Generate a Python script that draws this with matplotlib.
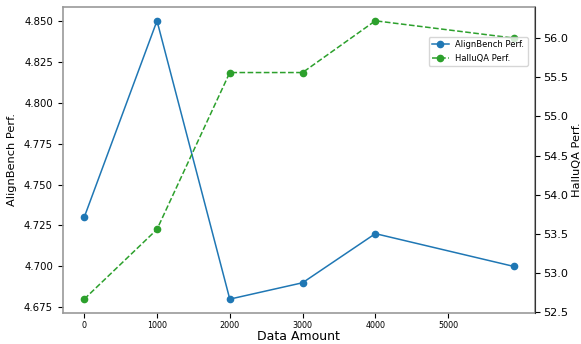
import matplotlib.pyplot as plt

# --- Data ---
data_amount = [0, 1000, 2000, 3000, 4000, 5900]
alignbench = [4.73, 4.85, 4.68, 4.69, 4.72, 4.70]
halluqa = [52.67, 53.56, 55.56, 55.56, 56.22, 56.0]
x_ticks = [0, 1000, 2000, 3000, 4000, 5000]

fig, ax1 = plt.subplots(figsize=(5.81, 3.44), dpi=100)
fig.subplots_adjust(left=0.108, right=0.921, bottom=0.090, top=0.980)

l1, = ax1.plot(data_amount, alignbench, "o-", color="#1f77b4", markersize=4.5,
               linewidth=1.1, label="AlignBench Perf.")
ax1.set_ylabel("AlignBench Perf.", fontsize=8.2, labelpad=5)
ax1.set_xlabel("Data Amount", fontsize=9, labelpad=0)
ax1.set_xticks(x_ticks)
ax1.tick_params(axis="x", labelsize=5.8, pad=2.5)
ax1.tick_params(axis="y", labelsize=7.3)
ax1.set_yticks([4.675, 4.700, 4.725, 4.750, 4.775, 4.800, 4.825, 4.850])
ax1.yaxis.set_major_formatter(plt.FormatStrFormatter("%.3f"))
for s in ax1.spines.values():
    s.set_color("#999999")
    s.set_linewidth(1.2)

ax2 = ax1.twinx()
l2, = ax2.plot(data_amount, halluqa, "o--", color="#2ca02c", markersize=4.5,
               linewidth=1.1, label="HalluQA Perf.")
ax2.set_ylabel("HalluQA Perf.", fontsize=8.2, labelpad=3)
ax2.tick_params(axis="y", labelsize=8.1, pad=2)
for k in ["left", "top", "bottom"]:
    ax2.spines[k].set_visible(False)
ax2.spines["right"].set_color("#333333")

ax2.legend([l1, l2], [l1.get_label(), l2.get_label()], loc="upper right",
           bbox_to_anchor=(0.993, 0.915), fontsize=6)

plt.savefig("out.png")
